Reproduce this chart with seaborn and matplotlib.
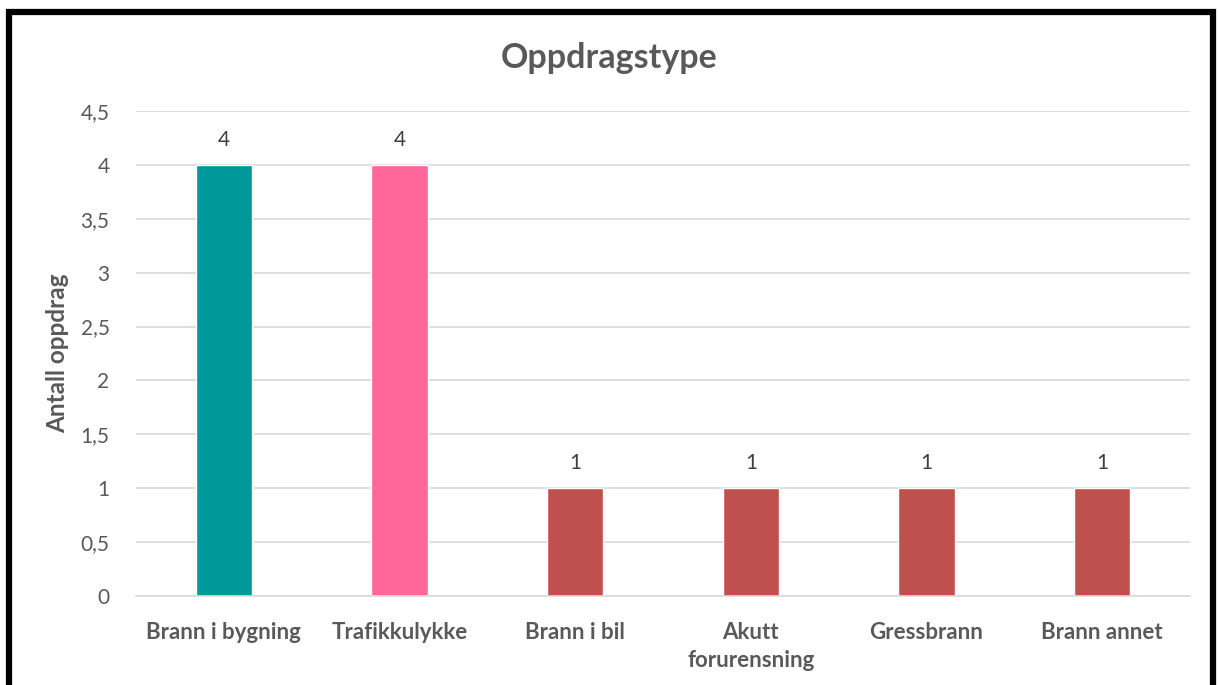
import matplotlib
matplotlib.use("Agg")
import matplotlib.pyplot as plt
import seaborn as sns
import pandas as pd
from matplotlib.patches import Rectangle

categories = ["Brann i bygning", "Trafikkulykke", "Brann i bil", "Akutt\nforurensning", "Gressbrann", "Brann annet"]
values = [4, 4, 1, 1, 1, 1]
colors = ["#009999", "#FF6699", "#C0504D", "#C0504D", "#C0504D", "#C0504D"]
yticks = [0, 0.5, 1, 1.5, 2, 2.5, 3, 3.5, 4, 4.5]
ytick_labels = ["0", "0,5", "1", "1,5", "2", "2,5", "3", "3,5", "4", "4,5"]

sns.set_theme(style="white")
plt.rcParams['font.family'] = ['Lato', 'DejaVu Sans']

df = pd.DataFrame({"type": categories, "count": values})

fig = plt.figure(figsize=(12.19, 6.85), dpi=100)
ax = fig.add_axes([136/1219, 1-596/685, (1190-136)/1219, (596-111)/685])

sns.barplot(data=df, x="type", y="count", hue="type", palette=colors,
            legend=False, width=0.32, ax=ax, saturation=1)

ax.set_ylim(0, 4.5)
ax.set_xlim(-0.5, len(categories)-0.5)
ax.set_yticks(yticks)
ax.set_yticklabels(ytick_labels)
ax.yaxis.grid(True, color="#D9D9D9", linewidth=1.2)
ax.set_axisbelow(True)
for s in ["top", "right", "left"]:
    ax.spines[s].set_visible(False)
ax.spines["bottom"].set_color("#D9D9D9")
ax.spines["bottom"].set_linewidth(1.2)
ax.tick_params(axis="y", length=0, pad=19, labelsize=15, labelcolor="#595959")
ax.tick_params(axis="x", length=0, pad=19, labelsize=16, labelcolor="#595959")
for lbl in ax.get_xticklabels():
    lbl.set_fontweight("bold")
    lbl.set_verticalalignment("top")
    lbl.set_linespacing(1.4)

for c in ax.containers:
    ax.bar_label(c, padding=11, fontsize=15, color="#404040")

ax.set_xlabel("")
ax.set_ylabel("Antall oppdrag", fontsize=17.5, fontweight="bold", color="#595959", labelpad=8)

fig.text(0.5, 1-58/685, "Oppdragstype", ha="center", va="center",
         fontsize=24.5, fontweight="bold", color="#595959")

# border
fig.patches.append(Rectangle((9/1219, -0.05), (1213-9)/1219, (1 - 11.5/685) + 0.05,
                             transform=fig.transFigure, fill=False,
                             edgecolor="black", linewidth=4.5))

fig.savefig("out.png", dpi=100)
